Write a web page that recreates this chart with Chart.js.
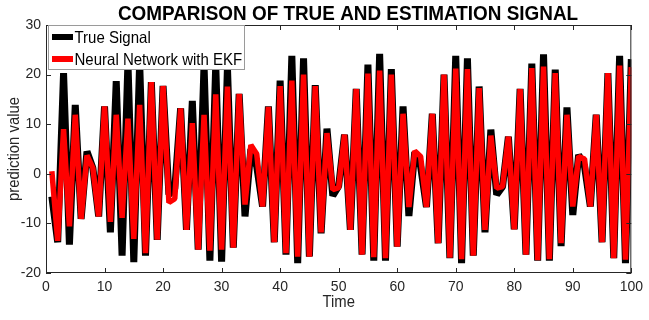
<!DOCTYPE html>
<html>
<head>
<meta charset="utf-8">
<script src="https://cdn.jsdelivr.net/npm/chart.js@4.4.1/dist/chart.umd.min.js"></script>
<style>
  html, body { margin: 0; padding: 0; background: #ffffff; }
  #wrap { width: 649px; height: 320px; }
</style>
</head>
<body>
<div id="wrap"><canvas id="c" width="649" height="320"></canvas></div>
<script>
const chartTitle = "COMPARISON OF TRUE AND ESTIMATION SIGNAL";
const xLabel = "Time";
const yLabel = "prediction value";
const seriesNames = ["True Signal", "Neural Network with EKF"];
const xTicks = [0, 10, 20, 30, 40, 50, 60, 70, 80, 90, 100];
const yTicks = [-20, -10, 0, 10, 20, 30];

const time = [1,2,3,4,5,6,7,8,9,10,11,12,13,14,15,16,17,18,19,20,
  21,22,23,24,25,26,27,28,29,30,31,32,33,34,35,36,37,38,39,40,
  41,42,43,44,45,46,47,48,49,50,51,52,53,54,55,56,57,58,59,60,
  61,62,63,64,65,66,67,68,69,70,71,72,73,74,75,76,77,78,79,80,
  81,82,83,84,85,86,87,88,89,90,91,92,93,94,95,96,97,98,99,100];

const trueSignal = [
  -4.6, -13.8, 20.3, -14.3, 13.9, -9.1, 4.5, 1.2, -8.6, 13.6,
  -11.8, 18.7, -16.5, 22.5, -17.8, 22.5, -16.5, 18.5, -13.3, 17.7,
  -4.2, -3.0, 13.2, -11.3, 14.7, -15.3, 22.0, -17.5, 22.0, -17.7,
  21.5, -14.9, 16.1, -8.6, 5.0, 1.5, -6.6, 13.6, -13.8, 18.8,
  -16.3, 23.8, -18.0, 23.3, -16.7, 17.9, -12.0, 9.1, -4.4, -2.5,
  7.9, -11.3, 17.1, -16.3, 22.0, -17.5, 24.2, -17.5, 21.1, -14.7,
  13.6, -8.5, 4.4, 1.5, -6.7, 12.1, -14.0, 20.0, -17.0, 23.8,
  -18.0, 23.3, -16.5, 17.6, -11.8, 8.9, -4.2, -2.6, 7.5, -11.2,
  17.1, -16.3, 22.2, -17.5, 24.1, -17.5, 21.0, -14.6, 13.4, -8.3,
  3.8, 1.5, -6.6, 11.9, -13.8, 20.3, -17.0, 23.8, -18.0, 23.1
];

const nnEkf = [
  0.5, -13.5, 9.0, -10.6, 11.9, -9.1, 3.7, 1.2, -8.6, 13.6,
  -9.7, 11.9, -8.9, 11.1, -13.1, 13.9, -16.0, 18.5, -13.3, 17.7,
  -5.8, -5.0, 13.2, -11.3, 10.2, -15.3, 11.9, -15.5, 16.0, -15.3,
  17.6, -14.9, 16.1, -6.2, 5.8, 4.0, -6.6, 13.5, -13.8, 17.7,
  -16.0, 18.8, -16.7, 20.0, -16.7, 17.7, -11.8, 8.2, -3.2, -2.8,
  7.9, -11.3, 17.1, -16.3, 20.2, -16.8, 20.8, -17.0, 20.0, -14.7,
  12.1, -6.7, 4.6, 3.5, -6.7, 12.1, -14.0, 20.0, -16.9, 21.2,
  -17.2, 21.1, -16.5, 17.3, -11.3, 7.7, -2.9, -2.6, 7.5, -11.2,
  17.1, -16.3, 21.3, -17.4, 21.6, -17.2, 20.3, -14.0, 11.9, -6.6,
  3.5, 3.0, -6.6, 11.9, -13.8, 20.3, -17.0, 21.8, -17.3, 21.5
];

const FONT = "'Liberation Sans', Arial, Helvetica, sans-serif";
const AXIS_COLOR = "#262626";

const toXY = (vals) => vals.map((v, i) => ({ x: time[i], y: v }));

function squishText(ctx, text, x, y, sx) {
  ctx.save();
  ctx.translate(x, y);
  ctx.scale(sx, 1);
  ctx.fillText(text, 0, 0);
  ctx.restore();
}

const decorPlugin = {
  id: 'decor',
  afterDraw(chart) {
    const ctx = chart.ctx;
    const a = chart.chartArea;
    const xs = chart.scales.x, ys = chart.scales.y;
    ctx.save();
    ctx.strokeStyle = AXIS_COLOR;
    ctx.lineWidth = 1;
    ctx.strokeRect(a.left + 0.5, a.top + 0.5, a.right - a.left - 1, a.bottom - a.top - 1);
    const tl = 5;
    ctx.beginPath();
    xTicks.forEach(t => {
      const px = Math.round(xs.getPixelForValue(t)) + 0.5;
      ctx.moveTo(px, a.bottom); ctx.lineTo(px, a.bottom - tl);
      ctx.moveTo(px, a.top); ctx.lineTo(px, a.top + tl);
    });
    yTicks.forEach(t => {
      const py = Math.round(ys.getPixelForValue(t)) + 0.5;
      ctx.moveTo(a.left, py); ctx.lineTo(a.left + tl, py);
      ctx.moveTo(a.right, py); ctx.lineTo(a.right - tl, py);
    });
    ctx.stroke();

    // title
    ctx.fillStyle = "#000000";
    ctx.font = "bold 21px " + FONT;
    ctx.textAlign = "center";
    ctx.textBaseline = "middle";
    squishText(ctx, chartTitle, 348, 14, 0.9);

    // axis labels
    ctx.fillStyle = AXIS_COLOR;
    ctx.font = "16.5px " + FONT;
    squishText(ctx, xLabel, (a.left + a.right) / 2, 302, 0.9);
    ctx.save();
    ctx.translate(14, (a.top + a.bottom) / 2);
    ctx.rotate(-Math.PI / 2);
    ctx.scale(0.9, 1);
    ctx.fillText(yLabel, 0, 0);
    ctx.restore();

    // legend
    const lx = 48, ly = 25, lw = 197, lh = 45;
    ctx.fillStyle = "#ffffff";
    ctx.fillRect(lx, ly, lw, lh);
    ctx.strokeStyle = "#9a9a9a";
    ctx.lineWidth = 1;
    ctx.strokeRect(lx + 0.5, ly + 0.5, lw - 1, lh - 1);
    const ds = chart.data.datasets;
    const rows = [37, 59];
    ds.forEach((d, i) => {
      ctx.strokeStyle = d.borderColor;
      ctx.lineWidth = 6;
      ctx.beginPath();
      ctx.moveTo(52, rows[i]);
      ctx.lineTo(73, rows[i]);
      ctx.stroke();
      ctx.fillStyle = "#000000";
      ctx.font = "16.5px " + FONT;
      ctx.textAlign = "left";
      ctx.textBaseline = "middle";
      squishText(ctx, d.label, 74.5, rows[i] + 1, 0.91);
    });
    ctx.restore();
  }
};

new Chart(document.getElementById('c'), {
  type: 'line',
  data: {
    datasets: [
      {
        label: seriesNames[0],
        data: toXY(trueSignal),
        borderColor: '#000000',
        borderWidth: 7,
        borderJoinStyle: 'bevel',
        pointRadius: 0,
        tension: 0,
        fill: false,
        order: 2
      },
      {
        label: seriesNames[1],
        data: toXY(nnEkf),
        borderColor: '#ff0000',
        borderWidth: 5.5,
        borderJoinStyle: 'bevel',
        pointRadius: 0,
        tension: 0,
        fill: false,
        order: 1
      }
    ]
  },
  options: {
    responsive: false,
    animation: false,
    events: [],
    layout: { padding: { top: 25, right: 12, left: 0, bottom: 0 } },
    plugins: { legend: { display: false }, title: { display: false }, tooltip: { enabled: false } },
    scales: {
      x: {
        type: 'linear', min: 0, max: 100,
        afterFit(s) { s.height = 47; },
        afterBuildTicks(s) { s.ticks = xTicks.map(v => ({ value: v })); },
        grid: { display: false, drawTicks: false },
        border: { display: false },
        ticks: { color: AXIS_COLOR, font: { family: FONT, size: 14 }, padding: 6, maxRotation: 0 }
      },
      y: {
        type: 'linear', min: -20, max: 30,
        afterFit(s) { s.width = 46; },
        afterBuildTicks(s) { s.ticks = yTicks.map(v => ({ value: v })); },
        grid: { display: false, drawTicks: false },
        border: { display: false },
        ticks: { color: AXIS_COLOR, font: { family: FONT, size: 14 }, padding: 5 }
      }
    }
  },
  plugins: [decorPlugin]
});
</script>
</body>
</html>
